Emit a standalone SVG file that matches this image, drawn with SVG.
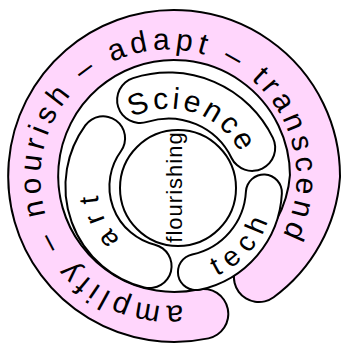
<svg xmlns="http://www.w3.org/2000/svg" width="344" height="345" viewBox="0 0 344 345">
<style>
.o{fill:none;stroke:#000;stroke-linecap:round}
.p{fill:none;stroke:#ffd6fc;stroke-linecap:round}
.w{fill:none;stroke:#fff;stroke-linecap:round}
.t{font-family:"Liberation Sans",Arial,sans-serif;fill:#000}
.pk{font-size:30px;letter-spacing:4.9px}
</style>
<defs>
<path id="spiral" d="M203.3,313.9 A141,141 0 0 1 125.8,43.5 A141,141 0 0 1 315,176 A138,138 0 0 1 258.9,277.1"/>
<path id="pinkText" d="M182.8,304.7 A128,128 0 0 1 124.7,57.2 A128,128 0 0 1 250.8,275.5"/>
<path id="sciShape" d="M140.1,100 A93,93 0 0 1 252.2,147.9"/>
<path id="techShape" d="M263.9,192.5 A86,86 0 0 1 195.9,272.1"/>
<path id="artShape" d="M149.6,266.1 A82,82 0 0 1 103.1,138.3"/>
<path id="sciText" d="M117.1,127.2 A80,80 0 0 1 246.7,171.9"/>
<path id="techText" d="M178,284 A96,96 0 0 0 273.1,174.6"/>
<path id="artText" d="M156.9,257.4 A72,72 0 0 1 109,147.3"/>
</defs>
<rect width="344" height="345" fill="#fff"/>
<g id="spiral-band">
<use href="#spiral" class="o" stroke-width="52"/>
<use href="#spiral" class="p" stroke-width="48"/>
<text class="t pk"><textPath href="#pinkText" startOffset="0">amplify</textPath></text>
<text class="t pk"><textPath href="#pinkText" startOffset="142.5">–</textPath></text>
<text class="t pk"><textPath href="#pinkText" startOffset="177.3">nourish</textPath></text>
<text class="t pk"><textPath href="#pinkText" startOffset="323.2">–</textPath></text>
<text class="t pk"><textPath href="#pinkText" startOffset="358">adapt</textPath></text>
<text class="t pk"><textPath href="#pinkText" startOffset="470.8">–</textPath></text>
<text class="t pk"><textPath href="#pinkText" startOffset="505.6">transcend</textPath></text>
</g>
<g id="science">
<use href="#sciShape" class="o" stroke-width="48"/>
<use href="#sciShape" class="w" stroke-width="44"/>
<text class="t" font-size="30" letter-spacing="3.2" text-anchor="middle"><textPath href="#sciText" startOffset="50%">Science</textPath></text>
</g>
<g id="tech">
<use href="#techShape" class="o" stroke-width="38"/>
<use href="#techShape" class="w" stroke-width="34"/>
<text class="t" font-size="28" letter-spacing="8" text-anchor="middle"><textPath href="#techText" startOffset="50%">tech</textPath></text>
</g>
<g id="art">
<use href="#artShape" class="o" stroke-width="46"/>
<use href="#artShape" class="w" stroke-width="42"/>
<text class="t" font-size="28" letter-spacing="9" text-anchor="middle"><textPath href="#artText" startOffset="50%">art</textPath></text>
</g>
<g id="flourishing">
<circle cx="178" cy="188" r="58" fill="#fff" stroke="#000" stroke-width="2"/>
<text class="t" x="182" y="187" font-size="22" letter-spacing="1" text-anchor="middle" transform="rotate(-90 182 187)">flourishing</text>
</g>
<g id="connectors"/>
</svg>
